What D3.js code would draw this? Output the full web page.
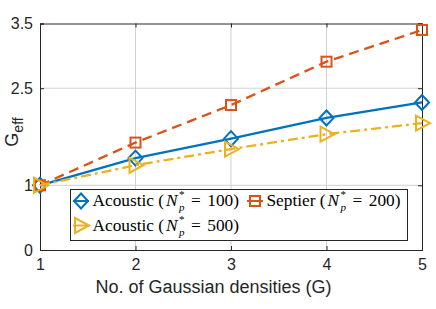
<!DOCTYPE html>
<html><head><meta charset="utf-8">
<script src="https://cdn.jsdelivr.net/npm/d3@7"></script>
<style>body{margin:0;background:#fff}</style>
</head><body>
<svg id="c" width="436" height="309"></svg>
<script>
const gaussians = [1, 2, 3, 4, 5];
const acoustic100 = [1.0, 1.42, 1.72, 2.04, 2.28];
const septier200 = [1.0, 1.66, 2.24, 2.91, 3.40];
const acoustic500 = [1.0, 1.31, 1.56, 1.79, 1.96];
const yTicks = [0, 1, 2.5, 3.5];
const xTicks = [1, 2, 3, 4, 5];
const seriesNames = [["Acoustic", "100"], ["Septier", "200"], ["Acoustic", "500"]];

const svg = d3.select("#c");
const L = 40, R = 422, T = 23.5, B = 250;
const x = d3.scaleLinear().domain([1, 5]).range([L, R]);
const y = d3.scaleLinear().domain([0, 3.5]).range([B, T]);
const tickCol = "#262626";
const sans = "Liberation Sans, Arial, sans-serif";

// grid
const g = svg.append("g");
g.selectAll(".gx").data(xTicks.slice(1, -1)).enter().append("line")
  .attr("x1", d => x(d)).attr("x2", d => x(d)).attr("y1", T).attr("y2", B)
  .attr("stroke", "#d0d0d0").attr("stroke-width", 1);
g.selectAll(".gy").data(yTicks.slice(1, -1)).enter().append("line")
  .attr("y1", d => y(d)).attr("y2", d => y(d)).attr("x1", L).attr("x2", R)
  .attr("stroke", "#d0d0d0").attr("stroke-width", 1);

// axes
const xa = svg.append("g").attr("transform", `translate(0,${B})`)
  .call(d3.axisBottom(x).tickValues(xTicks).tickSize(-4).tickPadding(9).tickFormat(d3.format("d")));
const ya = svg.append("g").attr("transform", `translate(${L},0)`)
  .call(d3.axisLeft(y).tickValues(yTicks).tickSize(-4).tickPadding(7).tickFormat(d => d));
const xt = svg.append("g").attr("transform", `translate(0,${T})`)
  .call(d3.axisTop(x).tickValues(xTicks).tickSize(-4).tickFormat(""));
const yr = svg.append("g").attr("transform", `translate(${R},0)`)
  .call(d3.axisRight(y).tickValues(yTicks).tickSize(-4).tickFormat(""));
[xa, ya, xt, yr].forEach(a => {
  a.selectAll("path,line").attr("stroke", tickCol).attr("stroke-width", 1);
  a.selectAll("text").attr("fill", tickCol).style("font-family", sans).style("font-size", "16px");
});

// series
const series = [
  {vals: acoustic100, color: "#0072BD", dash: null, marker: "diamond"},
  {vals: septier200, color: "#D95319", dash: "10,6", marker: "square"},
  {vals: acoustic500, color: "#EDB120", dash: "10,4,3,4", marker: "triangle"}
];
function drawMarker(sel, type, color) {
  if (type === "diamond") {
    sel.append("path").attr("d", "M0,-7.5L7,0L0,7.5L-7,0Z");
  } else if (type === "square") {
    sel.append("rect").attr("x", -5).attr("y", -5).attr("width", 10).attr("height", 10);
  } else {
    sel.append("path").attr("d", "M8,0L-6,-7.5L-6,7.5Z");
  }
  sel.selectAll("*").attr("fill", "none").attr("stroke", color).attr("stroke-width", 2);
}
const line = d3.line().x((d, i) => x(gaussians[i])).y(d => y(d));
series.forEach(s => {
  svg.append("path").attr("d", line(s.vals)).attr("fill", "none")
    .attr("stroke", s.color).attr("stroke-width", 2.3)
    .attr("stroke-dasharray", s.dash);
  s.vals.forEach((v, i) => {
    const m = svg.append("g").attr("transform", `translate(${x(gaussians[i])},${y(v)})`);
    drawMarker(m, s.marker, s.color);
  });
});

// labels
svg.append("text").attr("x", 213.5).attr("y", 293).attr("text-anchor", "middle")
  .style("font-family", sans).style("font-size", "18px").attr("fill", tickCol)
  .text("No. of Gaussian densities (G)");
const yl = svg.append("text").attr("transform", `translate(17.5,132) rotate(-90)`)
  .attr("text-anchor", "middle").style("font-family", sans)
  .style("font-size", "18px").attr("fill", tickCol);
yl.append("tspan").text("G");
yl.append("tspan").attr("dy", 5).style("font-size", "14px").text("eff");

// legend
const lg = svg.append("g");
lg.append("rect").attr("x", 70.5).attr("y", 189.5).attr("width", 337).attr("height", 51)
  .attr("fill", "#fff").attr("stroke", tickCol).attr("stroke-width", 1);
const fam = "Liberation Serif, Times New Roman, serif";
const tmp = svg.append("text").style("font-family", fam).style("font-size", "11px").text("*");
const starW = tmp.node().getComputedTextLength();
tmp.remove();
const pos = [[0, 81, 206], [1, 255, 206], [2, 81, 230.5]];
function legendText(px, py, name, num) {
  const t = lg.append("text").attr("x", px).attr("y", py)
    .style("font-family", fam).style("font-size", "17.3px").attr("fill", "#000");
  t.append("tspan").text(name + " (");
  t.append("tspan").attr("dx", 2).style("font-style", "italic").text("N");
  t.append("tspan").attr("dx", 1.5).attr("dy", -8).style("font-size", "11px").text("*");
  t.append("tspan").attr("dx", -starW).attr("dy", 13).style("font-size", "11px").style("font-style", "italic").text("p");
  t.append("tspan").attr("dx", 6.5).attr("dy", -5).text("=");
  t.append("tspan").attr("dx", 6.5).text(num + ")");
}
pos.forEach(([i, px, py]) => {
  const s = series[i];
  lg.append("line").attr("x1", px - 8).attr("x2", px + 8).attr("y1", py - 5).attr("y2", py - 5)
    .attr("stroke", s.color).attr("stroke-width", 2);
  const m = lg.append("g").attr("transform", `translate(${px},${py - 5})`);
  drawMarker(m, s.marker, s.color);
  legendText(px + 11.5, py, seriesNames[i][0], seriesNames[i][1]);
});
</script>
</body></html>
